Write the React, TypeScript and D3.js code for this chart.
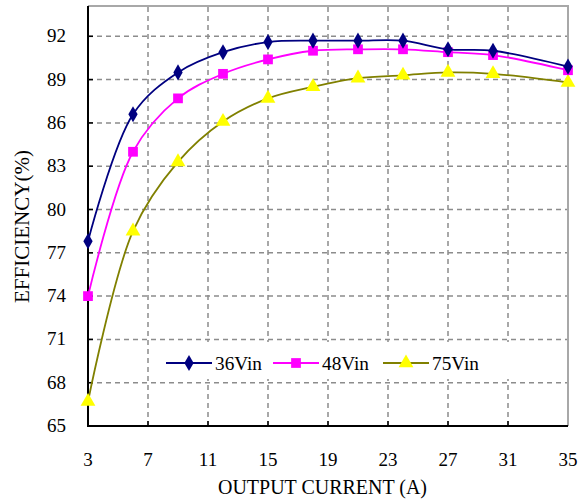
import * as d3 from "d3";
import React from "react";
import { useEffect, useRef } from "react";

const current = [3, 6, 9, 12, 15, 18, 21, 24, 27, 30, 35];
const eff36 = [77.8, 86.6, 89.5, 90.9, 91.6, 91.7, 91.7, 91.7, 91.1, 91.0, 89.9];
const eff48 = [74.0, 84.0, 87.7, 89.4, 90.4, 91.0, 91.1, 91.1, 90.9, 90.7, 89.65];
const eff75 = [66.7, 78.5, 83.3, 86.1, 87.7, 88.5, 89.1, 89.3, 89.5, 89.4, 88.8];
const xTicks = [3, 7, 11, 15, 19, 23, 27, 31, 35];
const yTicks = [65, 68, 71, 74, 77, 80, 83, 86, 89, 92];
const seriesNames = ["36Vin", "48Vin", "75Vin"];

const FONT = "'Liberation Serif', 'Times New Roman', serif";

const App = () => {
    const chartArea = useRef(null);
    const width = 579, height = 504;
    const margin = { top: 6, right: 10, bottom: 78, left: 88 };

    useEffect(() => {
        const svg = d3.select(chartArea.current);
        svg.selectAll("*").remove();

        const x = d3.scaleLinear().domain([3, 35]).range([margin.left, width - margin.right - 1]);
        const y = d3.scaleLinear().domain([65, 94.1]).range([height - margin.bottom, margin.top]);
        const x0 = x(3), x1 = x(35), y0 = y(65), y1 = y(94.1);

        svg.append("rect").attr("width", width).attr("height", height).attr("fill", "white");

        // grid
        const grid = svg.append("g")
            .attr("stroke", "#8c8c8c")
            .attr("stroke-width", 1.5)
            .attr("stroke-dasharray", "5,4");
        grid.selectAll("line.h")
            .data(yTicks.slice(1))
            .enter()
            .append("line")
            .attr("x1", x0).attr("x2", x1)
            .attr("y1", d => y(d)).attr("y2", d => y(d));
        grid.selectAll("line.v")
            .data(xTicks.slice(1, -1))
            .enter()
            .append("line")
            .attr("x1", d => x(d)).attr("x2", d => x(d))
            .attr("y1", y0).attr("y2", y1);

        // frame: top/right grey, left/bottom black
        svg.append("path")
            .attr("d", `M${x0},${y1}H${x1}V${y0}`)
            .attr("fill", "none").attr("stroke", "#a8a8a8").attr("stroke-width", 2);
        svg.append("path")
            .attr("d", `M${x0},${y1}V${y0}H${x1}`)
            .attr("fill", "none").attr("stroke", "black").attr("stroke-width", 2);

        // tick marks
        svg.append("g").selectAll("line")
            .data(yTicks.slice(1))
            .enter()
            .append("line")
            .attr("x1", x0).attr("x2", x0 + 5)
            .attr("y1", d => y(d)).attr("y2", d => y(d))
            .attr("stroke", "black").attr("stroke-width", 1.5);
        svg.append("g").selectAll("line")
            .data(xTicks.slice(1, -1))
            .enter()
            .append("line")
            .attr("x1", d => x(d)).attr("x2", d => x(d))
            .attr("y1", y0).attr("y2", y0 - 5)
            .attr("stroke", "black").attr("stroke-width", 1.5);

        // tick labels
        svg.append("g").selectAll("text")
            .data(yTicks)
            .enter()
            .append("text")
            .attr("x", 66)
            .attr("y", d => y(d) + 6)
            .attr("text-anchor", "end")
            .attr("font-family", FONT)
            .attr("font-size", "19px")
            .text(d => d);
        svg.append("g").selectAll("text")
            .data(xTicks)
            .enter()
            .append("text")
            .attr("x", d => x(d))
            .attr("y", 466)
            .attr("text-anchor", "middle")
            .attr("font-family", FONT)
            .attr("font-size", "19px")
            .text(d => d);

        // axis titles
        svg.append("text")
            .attr("x", 218).attr("y", 494)
            .attr("font-family", FONT)
            .attr("font-size", "21px")
            .attr("textLength", 209)
            .attr("lengthAdjust", "spacingAndGlyphs")
            .text("OUTPUT CURRENT (A)");
        svg.append("text")
            .attr("transform", "translate(29,303) rotate(-90)")
            .attr("font-family", FONT)
            .attr("font-size", "21px")
            .attr("textLength", 153)
            .attr("lengthAdjust", "spacingAndGlyphs")
            .text("EFFICIENCY(%)");

        const series = [
            { name: seriesNames[0], values: eff36, line: "#000080", fill: "#000080", symbol: d3.symbolDiamond, size: 75 },
            { name: seriesNames[1], values: eff48, line: "#ff00ff", fill: "#ff00ff", symbol: d3.symbolSquare, size: 95 },
            { name: seriesNames[2], values: eff75, line: "#808000", fill: "#ffff00", symbol: d3.symbolTriangle, size: 95 },
        ];

        const line = d3.line<[number, number]>()
            .x(d => x(d[0]))
            .y(d => y(d[1]))
            .curve(d3.curveCatmullRom.alpha(0.5));

        series.slice().reverse().forEach(s => {
            const pts: [number, number][] = current.map((c, i) => [c, s.values[i]]);
            svg.append("path")
                .attr("d", line(pts))
                .attr("fill", "none")
                .attr("stroke", s.line)
                .attr("stroke-width", 1.8);
            svg.append("g").selectAll("path")
                .data(pts)
                .enter()
                .append("path")
                .attr("transform", d => `translate(${x(d[0])},${y(d[1])})`)
                .attr("d", d3.symbol().type(s.symbol).size(s.size)())
                .attr("fill", s.fill);
        });

        // legend
        svg.append("rect")
            .attr("x", 158).attr("y", 342).attr("width", 362).attr("height", 37)
            .attr("fill", "white");
        const legendX = [166, 273, 383];
        const legendY = 363;
        series.forEach((s, i) => {
            const lx = legendX[i];
            svg.append("line")
                .attr("x1", lx).attr("x2", lx + 46)
                .attr("y1", legendY).attr("y2", legendY)
                .attr("stroke", s.line).attr("stroke-width", 1.8);
            svg.append("path")
                .attr("transform", `translate(${lx + 23},${legendY})`)
                .attr("d", d3.symbol().type(s.symbol).size(s.size)())
                .attr("fill", s.fill);
            svg.append("text")
                .attr("x", lx + 49).attr("y", legendY + 7)
                .attr("font-family", FONT)
                .attr("font-size", "19px")
                .attr("textLength", 47)
                .attr("lengthAdjust", "spacingAndGlyphs")
                .text(s.name);
        });
    }, []);

    return (
        <svg
            ref={chartArea}
            width={width}
            height={height}
            style={{ position: "absolute", left: 0, top: 0 }}
        />
    );
};

export default App;
